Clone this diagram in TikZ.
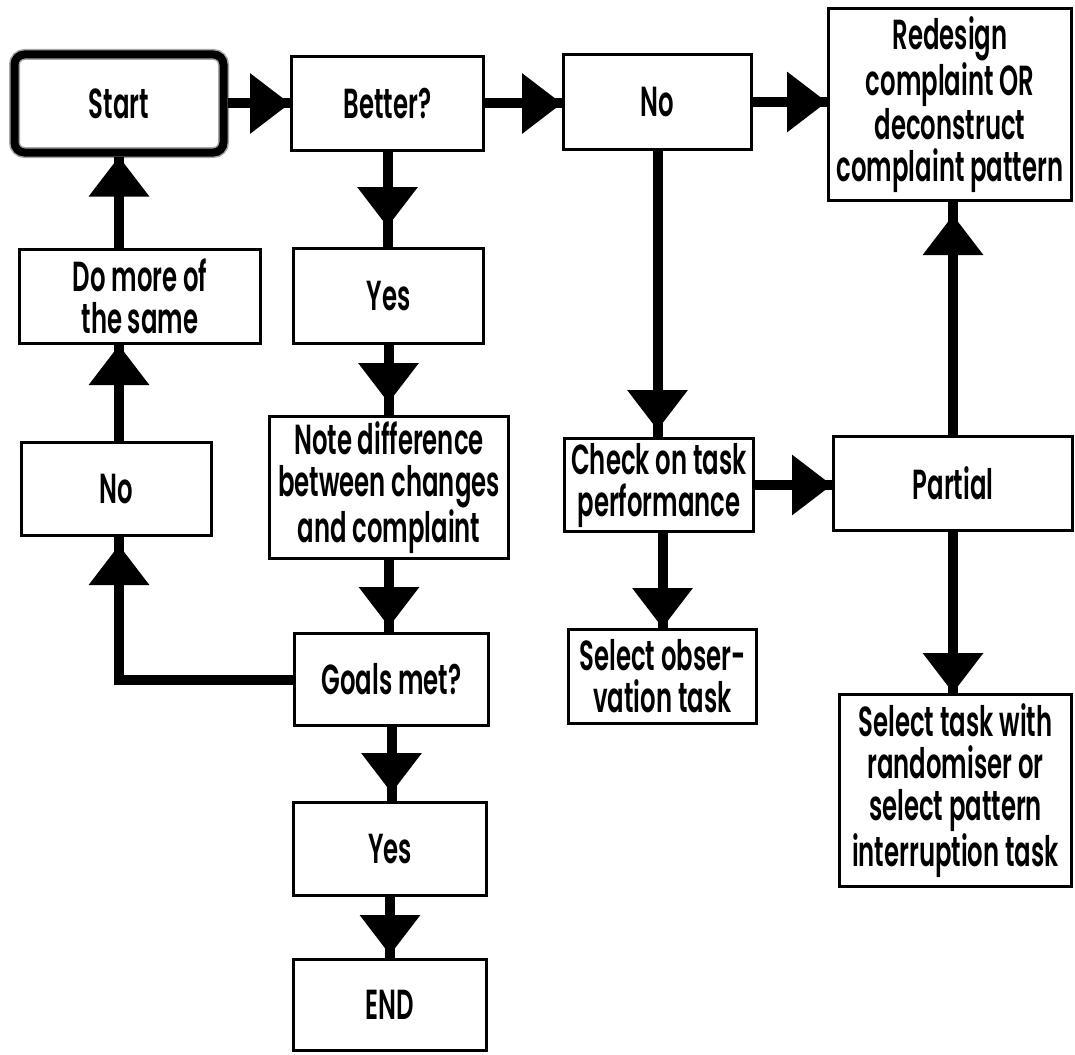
\documentclass[tikz,border=0pt]{standalone}
\usepackage{fontspec}
\setmainfont{Poppins}[FakeStretch=0.58,BoldFont={Poppins SemiBold}]
\usetikzlibrary{arrows.meta,decorations.markings}

\tikzset{
  tri/.tip={Triangle[width=29pt,length=20pt]},
  box/.style={draw,line width=1.5pt,inner sep=0pt,align=center,
    font=\bfseries\fontsize{21}{21}\selectfont},
  flow/.style={line width=5pt},
  head/.style={postaction={decorate,decoration={markings,
    mark=at position #1 with {\arrow{tri}}}}},
  head/.default=1
}

\begin{document}
\begin{tikzpicture}[x=0.5pt,y=-0.5pt]
\useasboundingbox (0,0) rectangle (1075,1054);

\node[box,minimum width=104.5pt,minimum height=49pt,line width=4pt,rounded corners=5pt,
  preaction={draw=black!35,line width=5.5pt}] (start) at (119,103.5) {Start};
\node[box,minimum width=96pt,minimum height=47pt] (better) at (387.5,103.5) {Better?};
\node[box,minimum width=94pt,minimum height=47.5pt] (nob) at (657.5,102) {No};
\node[box,minimum width=121.5pt,minimum height=96pt] (redesign) at (950,104.5)
  {Redesign\\complaint OR\\deconstruct\\complaint pattern};
\node[box,minimum width=120.5pt,minimum height=47pt] (domore) at (140,296.5) {Do more of\\the same};
\node[box,minimum width=95pt,minimum height=47.5pt] (yesa) at (388.5,296) {Yes};
\node[box,minimum width=95pt,minimum height=46.5pt] (noa) at (116.5,489) {No};
\node[box,minimum width=119.5pt,minimum height=71pt] (note) at (389,487.5)
  {Note difference\\between changes\\and complaint};
\node[box,minimum width=94.5pt,minimum height=46.5pt] (check) at (659,485) {Check on task\\performance};
\node[box,minimum width=119.5pt,minimum height=47pt] (partial) at (953,483.5) {Partial};
\node[box,minimum width=97pt,minimum height=46pt] (goals) at (391.5,679.5) {Goals met?};
\node[box,minimum width=94pt,minimum height=47pt] (selobs) at (662.5,676.5) {Select obser-\\vation task};
\node[box,minimum width=116pt,minimum height=96pt] (seltask) at (955.5,790.5)
  {Select task with\\randomiser or\\select pattern\\interruption task};
\node[box,minimum width=96.5pt,minimum height=46.5pt] (yesb) at (390,849) {Yes};
\node[box,minimum width=96.5pt,minimum height=45.5pt] (finish) at (390,1005) {END};

% top row
\draw[flow,head] (start) -- (better);
\draw[flow,head] (better.east) -- (better.east -| nob.west);
\draw[flow,head] (nob.east) -- (nob.east -| redesign.west);
% middle column
\draw[flow,head=-10pt] (better.south) -- (better.south |- yesa.north);
\draw[flow,head=-6pt] (yesa.south) -- (yesa.south |- note.north);
\draw[flow,head=-2.5pt] (note.south) -- (note.south |- goals.north);
\draw[flow,head=-4pt] (goals.south) -- (goals.south |- yesb.north);
\draw[flow,head=-1.5pt] (yesb.south) -- (yesb.south |- finish.north);
% back to start
\draw[flow,head=-4pt] (goals.west) -| (start |- noa.south);
\draw[flow,head] (start |- noa.north) -- (start |- domore.south);
\draw[flow,head] (start |- domore.north) -- (start.south);
% not better
\draw[flow,head=-3.5pt] (nob.south) -- (nob.south |- check.north);
\draw[flow,head] (check.east) -- (check.east -| partial.west);
\draw[flow,head] (selobs.north |- check.south) -- (selobs.north);
\draw[flow,head] (partial.south) -- (partial.south |- seltask.north);
\draw[flow,head=-6.5pt] (partial.north) -- (partial.north |- redesign.south);
\end{tikzpicture}
\end{document}
